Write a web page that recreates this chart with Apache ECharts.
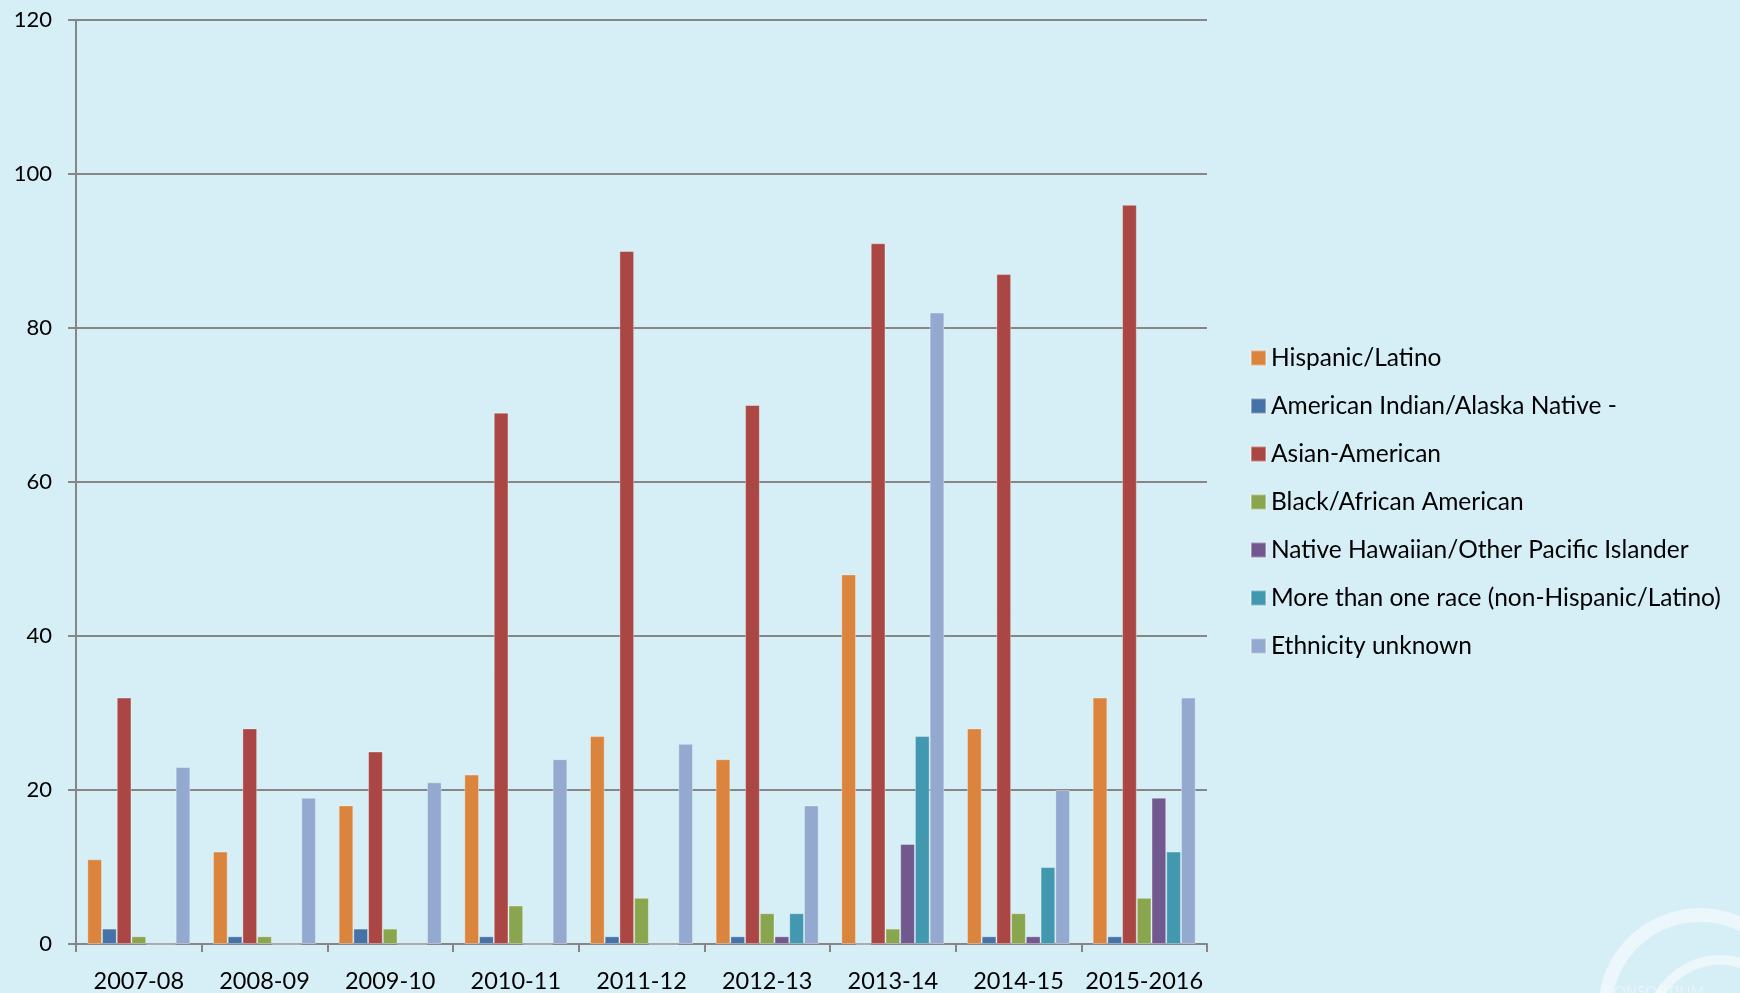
<!DOCTYPE html>
<html>
<head>
<meta charset="utf-8">
<script src="https://cdn.jsdelivr.net/npm/echarts@6/dist/echarts.min.js"></script>
<style>
html,body{margin:0;padding:0;background:#D6EEF5;}
#chart{width:1740px;height:993px;}
</style>
</head>
<body>
<div id="chart"></div>
<script>
const categories = ['2007-08','2008-09','2009-10','2010-11','2011-12','2012-13','2013-14','2014-15','2015-2016'];
const seriesNames = ['Hispanic/Latino','American Indian/Alaska Native -','Asian-American','Black/African American','Native Hawaiian/Other Pacific Islander','More than one race (non-Hispanic/Latino)','Ethnicity unknown'];
const hispanic   = [11, 12, 18, 22, 27, 24, 48, 28, 32];
const amIndian   = [2, 1, 2, 1, 1, 1, 0, 1, 1];
const asian      = [32, 28, 25, 69, 90, 70, 91, 87, 96];
const black      = [1, 1, 2, 5, 6, 4, 2, 4, 6];
const hawaiian   = [0, 0, 0, 0, 0, 1, 13, 1, 19];
const multiRace  = [0, 0, 0, 0, 0, 4, 27, 10, 12];
const unknown    = [23, 19, 21, 24, 26, 18, 82, 20, 32];
const yTicks = {min: 0, max: 120, interval: 20};

const colors = ['#DB843D','#4572A7','#AA4643','#89A54E','#71588F','#4198AF','#93A9CF'];
const seriesData = [hispanic, amIndian, asian, black, hawaiian, multiRace, unknown];

const chart = echarts.init(document.getElementById('chart'));
const font = 'Lato, "Open Sans", sans-serif';
chart.setOption({
  backgroundColor: '#D6EEF5',
  animation: false,
  color: colors,
  grid: {left: 76, right: 533, top: 20, bottom: 47, containLabel: false},
  legend: {
    orient: 'vertical',
    left: 1245,
    top: 340,
    itemWidth: 15,
    itemHeight: 15,
    itemGap: 22,
    icon: 'rect',
    textStyle: {fontFamily: font, fontSize: 24.5, color: '#000', lineHeight: 26}
  },
  xAxis: {
    type: 'category',
    data: categories,
    axisLine: {lineStyle: {color: '#868686', width: 2}},
    axisTick: {show: true, length: 8, interval: 0, lineStyle: {color: '#868686', width: 2}},
    axisLabel: {fontFamily: font, fontSize: 23.5, color: '#000', margin: 25, interval: 0}
  },
  yAxis: {
    type: 'value',
    min: yTicks.min, max: yTicks.max, interval: yTicks.interval,
    axisLine: {show: true, lineStyle: {color: '#868686', width: 2}},
    axisTick: {show: true, length: 8, lineStyle: {color: '#868686', width: 2}},
    splitLine: {lineStyle: {color: '#868686', width: 2}},
    axisLabel: {fontFamily: font, fontSize: 22, color: '#000', margin: 24}
  },
  series: seriesNames.map((name, i) => ({
    name: name,
    type: 'bar',
    data: seriesData[i],
    barGap: '0%',
    barCategoryGap: '18%',
    itemStyle: {borderColor: 'rgba(255,255,255,0.35)', borderWidth: 1}
  })),
  graphic: [
    {type: 'text', left: 1604, top: 985, style: {text: 'CONSORTIUM', fontFamily: font, fontSize: 15, fill: 'rgba(255,255,255,0.45)', letterSpacing: 4}},
    {type: 'arc', shape: {cx: 1700, cy: 1010, r: 95, startAngle: Math.PI * 1.05, endAngle: Math.PI * 1.75}, style: {stroke: 'rgba(255,255,255,0.5)', lineWidth: 14, fill: 'none'}},
    {type: 'arc', shape: {cx: 1720, cy: 1030, r: 70, startAngle: Math.PI * 1.1, endAngle: Math.PI * 1.6}, style: {stroke: 'rgba(255,255,255,0.5)', lineWidth: 10, fill: 'none'}}
  ]
});
</script>
</body>
</html>
